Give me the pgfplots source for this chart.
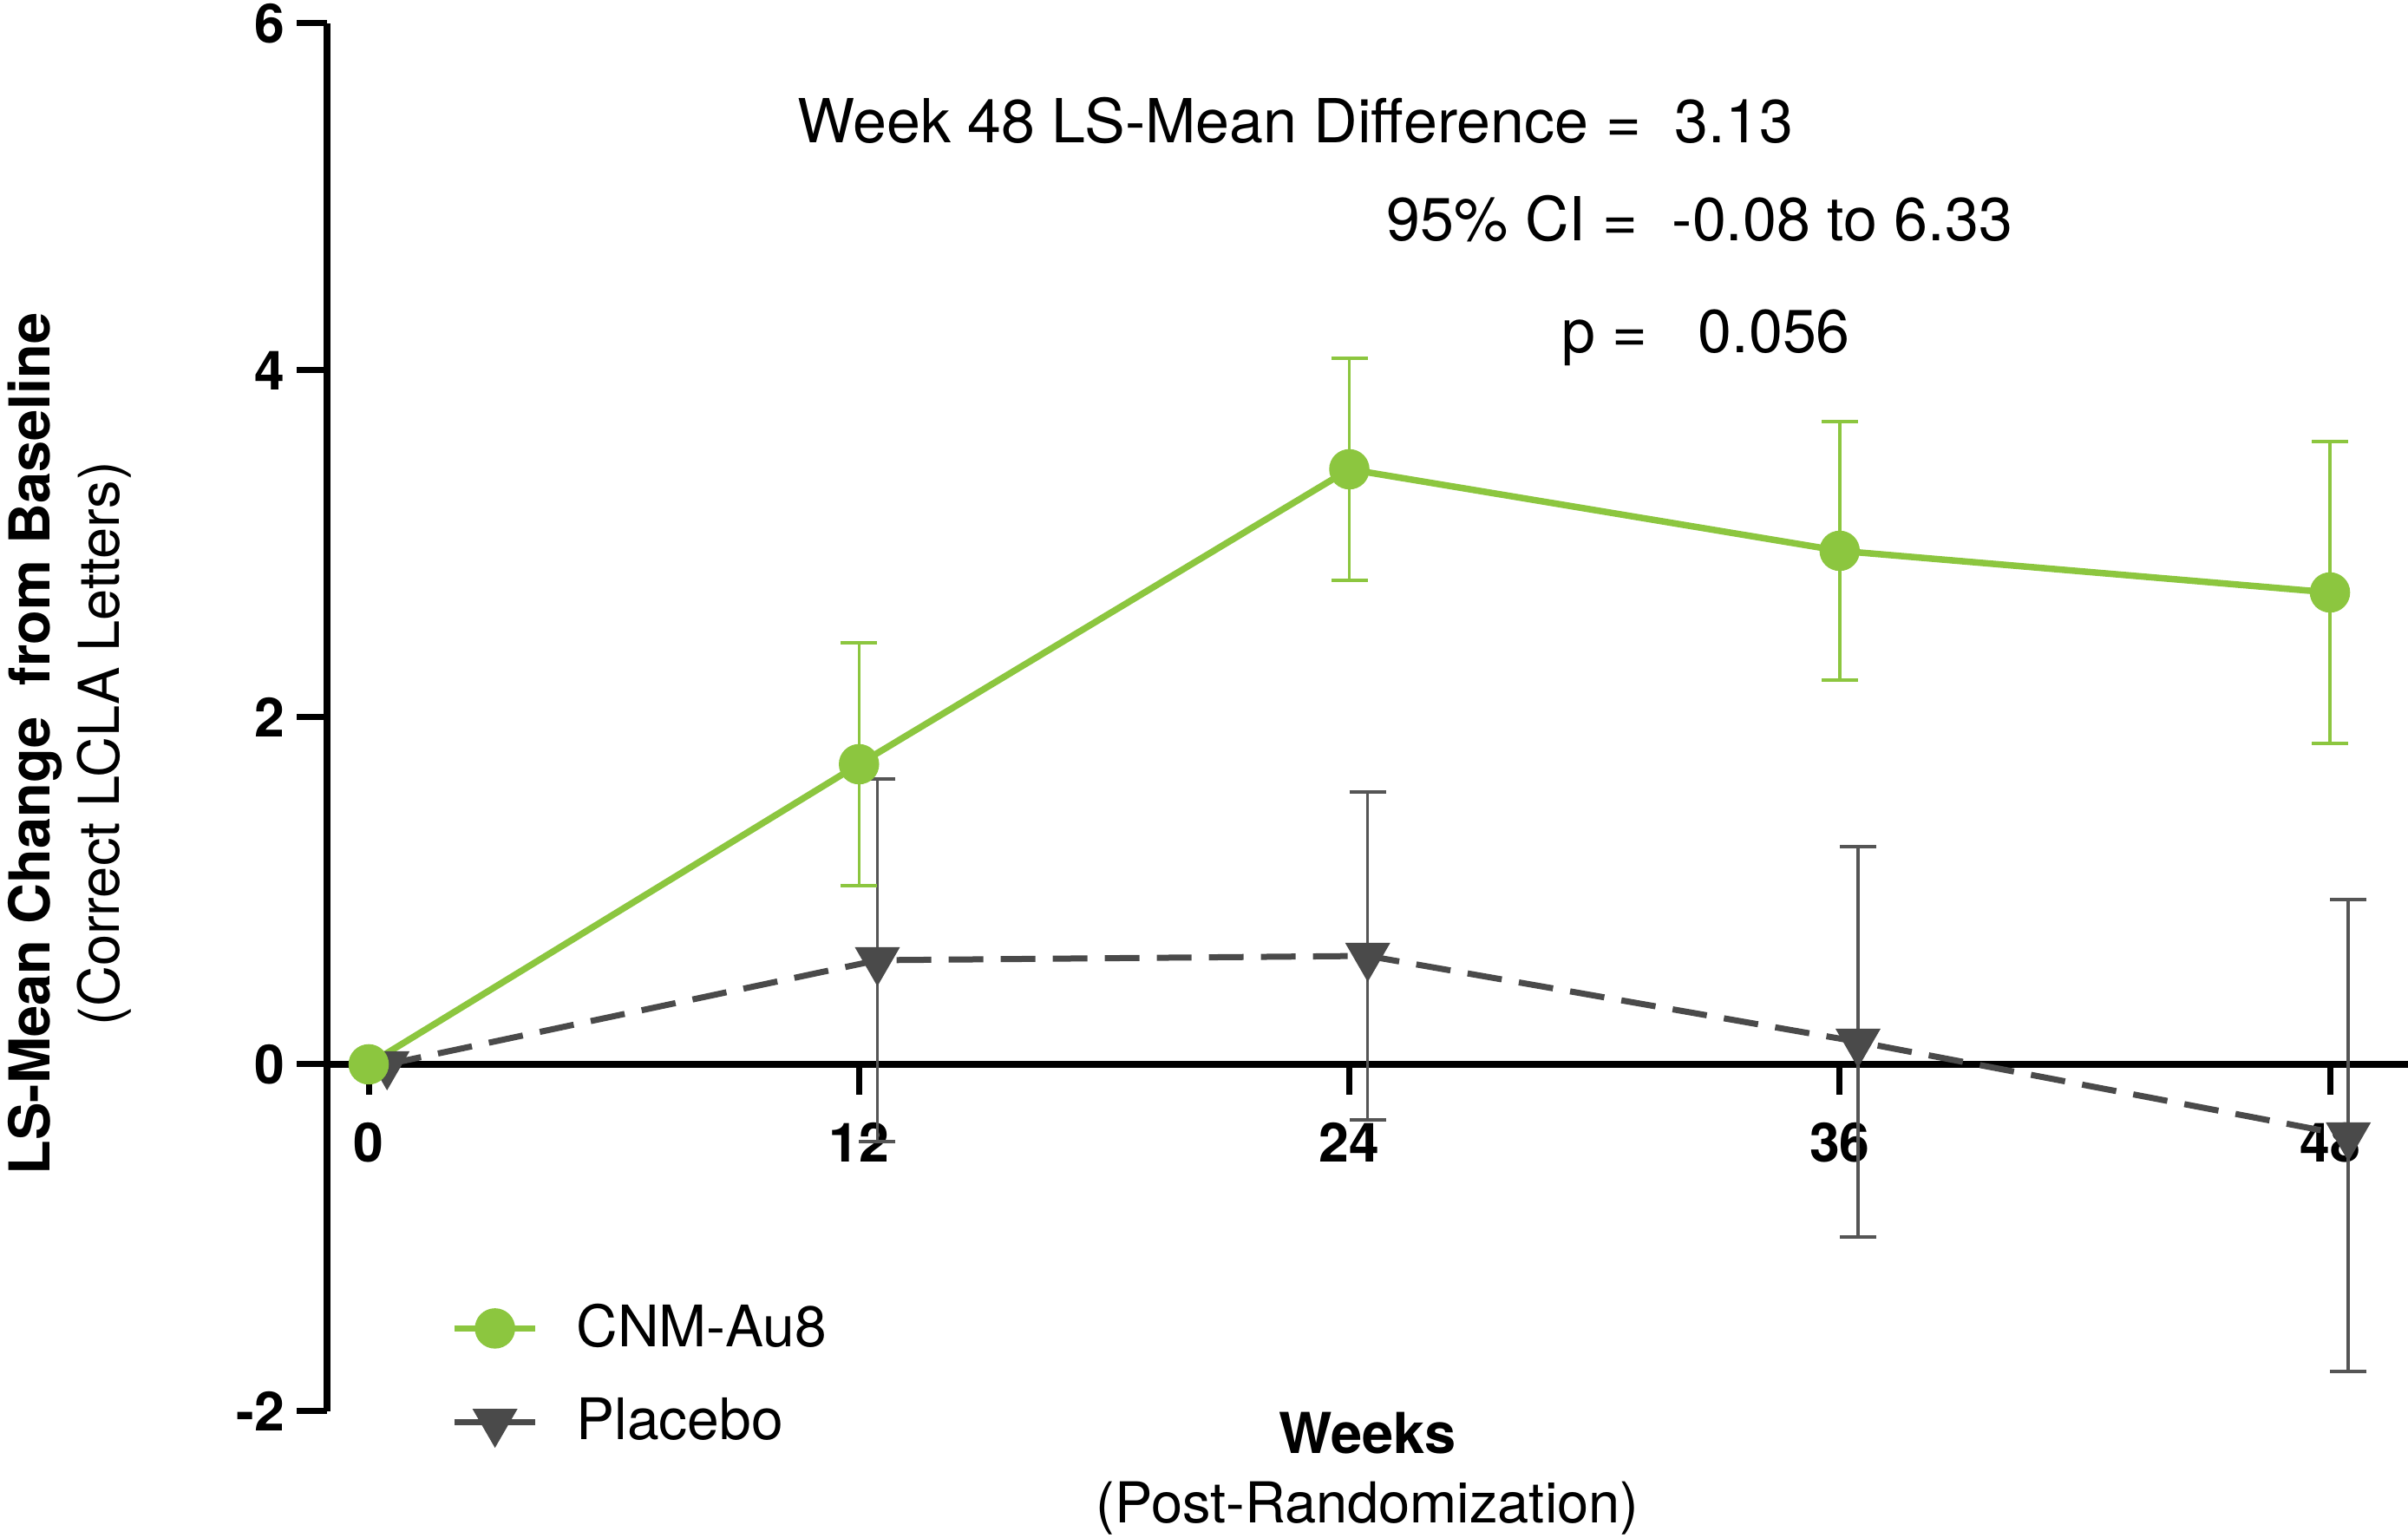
\documentclass[border=0pt]{standalone}
\usepackage{pgfplots}
\pgfplotsset{compat=1.18}
\usepackage{fontspec}
\setmainfont{TeX Gyre Heros}
\definecolor{cnmgreen}{HTML}{8CC63F}
\definecolor{plgray}{HTML}{4A4A4A}
\definecolor{plbar}{HTML}{555555}

\begin{document}
\begin{tikzpicture}
\begin{axis}[
  scale only axis, width=479.8pt, height=320pt,
  xmin=-1.019, xmax=49.91, ymin=-2, ymax=6,
  axis x line=middle, axis y line=left,
  axis line style={-, line width=1.5pt, black},
  xtick={0,12,24,36,48}, xticklabels={0,12,24,36,48},
  ytick={-2,0,2,4,6}, yticklabels={-2,0,2,4,6},
  minor tick num=0,
  hide obscured x ticks=false, hide obscured y ticks=false,
  tick align=outside, major tick length=7pt,
  tick style={line width=1.4pt, black},
  ticklabel style={font=\bfseries\fontsize{12.5}{15}\selectfont},
  yticklabel style={inner sep=0pt, xshift=-2.6pt},
  xticklabel style={inner sep=0pt, yshift=-6.2pt},
  xlabel={\textbf{Weeks}\\(Post-Randomization)},
  xlabel style={at={(axis description cs:0.5,0)}, anchor=north, inner sep=0pt, align=center, font=\fontsize{13}{16}\selectfont},
  ylabel={\textbf{LS-Mean Change\ \ from Baseline}\\(Correct LCLA Letters)},
  ylabel style={at={(axis description cs:-0.1538,0.481)}, anchor=north, rotate=0, inner sep=0pt, align=center, font=\fontsize{13}{16}\selectfont},
  clip=false,
  reverse legend,
  legend cell align=left,
  legend style={at={(axis cs:2.0,-1.79)}, anchor=west, draw=none, fill=none, inner sep=0pt,
    font=\fontsize{13.2}{15.8}\selectfont, row sep=6.3pt,
    /tikz/every odd column/.append style={column sep=6.7pt}},
  legend image code/.code={\draw[mark repeat=2, mark phase=2] plot coordinates {(0cm,0cm) (0.328cm,0cm) (0.656cm,0cm)};},
]
% bounding box helpers
\coordinate (bbll) at (axis cs:-9.023,-2.73);
\coordinate (bbur) at (axis cs:49.91,6.135);

% Placebo error bars
\addplot[forget plot, draw=none, mark=none,
  error bars/.cd, y dir=both, y explicit,
  error bar style={plbar, line width=0.7pt, solid},
  error mark options={rotate=90, mark size=4.2pt, line width=0.7pt, plbar, solid}]
coordinates {
  (12.45,0.60) +- (0,1.045)
  (24.45,0.625) +- (0,0.945)
  (36.45,0.13) +- (0,1.125)
  (48.45,-0.41) +- (0,1.36)
};
% Placebo line
\addplot[plgray, line width=1.4pt, dash pattern=on 8pt off 4pt,
  mark=triangle*, mark size=4.6pt, mark options={solid, rotate=180, fill=plgray, draw=plgray}]
coordinates {
  (0.45,0) (12.45,0.60) (24.45,0.625) (36.45,0.13) (48.45,-0.41)
};
\addlegendentry{Placebo}

% CNM error bars
\addplot[forget plot, draw=none, mark=none,
  error bars/.cd, y dir=both, y explicit,
  error bar style={cnmgreen, line width=0.7pt, solid},
  error mark options={rotate=90, mark size=4.2pt, line width=0.7pt, cnmgreen, solid}]
coordinates {
  (12,1.73) +- (0,0.70)
  (24,3.43) +- (0,0.64)
  (36,2.96) +- (0,0.745)
  (48,2.72) +- (0,0.87)
};
% CNM line
\addplot[cnmgreen, line width=1.5pt, mark=*, mark size=3.9pt, mark options={fill=cnmgreen, draw=cnmgreen}]
coordinates {
  (0,0) (12,1.73) (24,3.43) (36,2.96) (48,2.72)
};
\addlegendentry{CNM-Au8}

\node[anchor=base west, font=\fontsize{14}{17}\selectfont, inner sep=0pt] at (axis cs:10.47,5.31) {Week 48 LS-Mean Difference =\ \ 3.13};
\node[anchor=base west, font=\fontsize{14}{17}\selectfont, inner sep=0pt] at (axis cs:24.90,4.745) {95\% CI =\ \ -0.08 to 6.33};
\node[anchor=base west, font=\fontsize{14}{17}\selectfont, inner sep=0pt] at (axis cs:29.17,4.10) {p =\ \ \ 0.056};
\end{axis}
\pgfresetboundingbox
\path (bbll) rectangle (bbur);
\end{tikzpicture}
\end{document}
